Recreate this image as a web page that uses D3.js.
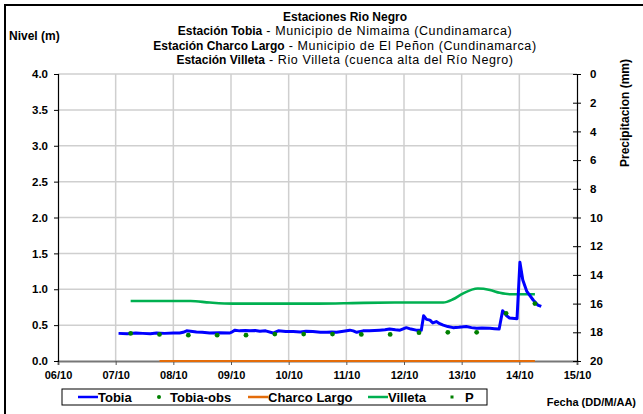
<!DOCTYPE html>
<html>
<head>
<meta charset="utf-8">
<script src="https://cdn.jsdelivr.net/npm/d3@7"></script>
<style>
  body { margin: 0; background: #fff; }
  svg { font-family: "Liberation Sans", Arial, sans-serif; }
</style>
</head>
<body>
<div id="chart"></div>
<script>
// day of October 2010 (fractional), level in m
const tobiaDays = [7.05, 7.20, 7.35, 7.47, 7.60, 7.71, 7.85, 8.00, 8.11, 8.17, 8.23, 8.30, 8.40, 8.50, 8.63, 8.80, 8.98,
  9.03, 9.07, 9.15, 9.25, 9.33, 9.42, 9.50, 9.60, 9.73, 9.82, 9.95, 10.08, 10.20, 10.30, 10.42, 10.55, 10.66, 10.75,
  10.83, 10.95, 11.06, 11.12, 11.18, 11.29, 11.40, 11.58, 11.67, 11.75, 11.85, 11.93, 12.04, 12.12, 12.21, 12.30,
  12.34, 12.39, 12.45, 12.50, 12.56, 12.62, 12.68, 12.76, 12.85, 12.95, 13.08, 13.17, 13.26, 13.35, 13.49, 13.57,
  13.65, 13.71, 13.78, 13.83, 13.96, 14.01, 14.06, 14.13, 14.24, 14.32, 14.38];
const tobiaLevel = [0.385, 0.38, 0.39, 0.385, 0.38, 0.39, 0.385, 0.39, 0.39, 0.40, 0.42, 0.415, 0.405, 0.40, 0.39, 0.395, 0.39,
  0.41, 0.43, 0.42, 0.425, 0.42, 0.425, 0.415, 0.42, 0.39, 0.42, 0.41, 0.41, 0.405, 0.415, 0.41, 0.40, 0.40, 0.405,
  0.40, 0.415, 0.43, 0.42, 0.40, 0.42, 0.42, 0.43, 0.435, 0.445, 0.435, 0.43, 0.465, 0.445, 0.43, 0.43,
  0.63, 0.58, 0.57, 0.53, 0.55, 0.52, 0.50, 0.48, 0.465, 0.47, 0.48, 0.465, 0.455, 0.46, 0.455, 0.45,
  0.446, 0.70, 0.63, 0.60, 0.59, 1.375, 1.13, 0.97, 0.85, 0.78, 0.76];

const obsDays = [7.26, 7.76, 8.26, 8.76, 9.26, 9.76, 10.26, 10.76, 11.26, 11.76, 12.26, 12.76, 13.26, 13.77, 14.27];
const obsLevel = [0.385, 0.37, 0.36, 0.36, 0.36, 0.375, 0.375, 0.375, 0.37, 0.37, 0.395, 0.40, 0.40, 0.665, 0.80];

const charcoDays = [7.76, 14.27];
const charcoLevel = [0, 0];

const villetaDays = [7.26, 8.0, 8.30, 8.63, 9.03, 9.7, 10.5, 11.0, 11.3, 12.0, 12.68, 12.85, 13.02, 13.28, 13.49, 13.66, 13.83, 14.27];
const villetaLevel = [0.836, 0.836, 0.836, 0.815, 0.80, 0.80, 0.80, 0.805, 0.81, 0.815, 0.815, 0.86, 0.94, 1.01, 0.99, 0.95, 0.93, 0.93];

const pDays = [];
const pValue = [];

const xTickDays = [6, 7, 8, 9, 10, 11, 12, 13, 14, 15];
const xTickLabels = ["06/10", "07/10", "08/10", "09/10", "10/10", "11/10", "12/10", "13/10", "14/10", "15/10"];
const yTicks = [0, 0.5, 1, 1.5, 2, 2.5, 3, 3.5, 4];
const pTicks = [0, 2, 4, 6, 8, 10, 12, 14, 16, 18, 20];

const titleLines = [
  ["Estaciones Rio Negro", ""],
  ["Estación Tobia", " - Municipio de Nimaima (Cundinamarca)"],
  ["Estación Charco Largo", " - Municipio de El Peñon (Cundinamarca)"],
  ["Estación Villeta", " -  Rio Villeta (cuenca alta del Río Negro)"]
];

const W = 643, H = 414;
const plotL = 58, plotR = 577, plotT = 74, plotB = 361;

const svg = d3.select('#chart').append('svg')
    .attr('width', W).attr('height', H);

svg.append('rect')
    .attr('x', 5).attr('y', 5).attr('width', 700).attr('height', 500)
    .attr('fill', 'none').attr('stroke', '#000').attr('stroke-width', 2);

const x = d3.scaleLinear().domain([6, 15]).range([plotL, plotR]);
const y = d3.scaleLinear().domain([0, 4]).range([plotB, plotT]);
const yP = d3.scaleLinear().domain([0, 20]).range([plotT, plotB]);

// grid
svg.append('g').selectAll('line').data(yTicks.filter(d => d > 0))
  .join('line')
    .attr('x1', plotL).attr('x2', plotR)
    .attr('y1', d => y(d)).attr('y2', d => y(d))
    .attr('stroke', '#cfcfcf').attr('stroke-width', 1.5);
svg.append('g').selectAll('line').data(xTickDays.filter(d => d > 6 && d < 15))
  .join('line')
    .attr('x1', d => x(d)).attr('x2', d => x(d))
    .attr('y1', plotT).attr('y2', plotB)
    .attr('stroke', '#cfcfcf').attr('stroke-width', 1.5);

// x axis
const xAxis = svg.append('g')
    .attr('transform', 'translate(0,' + plotB + ')')
    .call(d3.axisBottom(x).tickValues(xTickDays).tickSize(4).tickPadding(6)
      .tickFormat((d, i) => xTickLabels[i]));
xAxis.select('.domain').attr('stroke', '#777').attr('stroke-width', 2);
xAxis.selectAll('.tick line').attr('stroke', '#555');
xAxis.selectAll('text').attr('font-size', 11).attr('font-weight', 'bold')
    .attr('font-family', '"Liberation Sans", Arial, sans-serif').attr('fill', '#000');

// left axis
const yAxis = svg.append('g')
    .attr('transform', 'translate(' + plotL + ',0)')
    .call(d3.axisLeft(y).tickValues(yTicks).tickSize(4).tickPadding(6).tickFormat(d3.format('.1f')));
yAxis.select('.domain').attr('stroke', '#000').attr('stroke-width', 1.2);
yAxis.selectAll('text').attr('font-size', 11.5).attr('font-weight', 'bold')
    .attr('font-family', '"Liberation Sans", Arial, sans-serif');

// right axis (precipitation, reversed)
const pAxis = svg.append('g')
    .attr('transform', 'translate(' + plotR + ',0)')
    .call(d3.axisRight(yP).tickValues(pTicks).tickSize(4).tickPadding(9));
pAxis.select('.domain').attr('stroke', '#000').attr('stroke-width', 1.2);
pAxis.selectAll('.tick line').attr('x1', -4);
pAxis.selectAll('text').attr('font-size', 11.5).attr('font-weight', 'bold')
    .attr('font-family', '"Liberation Sans", Arial, sans-serif');

// series
const lineGen = d3.line().x(d => x(d[0])).y(d => y(d[1]));

svg.append('path')
    .datum(d3.zip(charcoDays, charcoLevel))
    .attr('d', lineGen)
    .attr('fill', 'none').attr('stroke', '#E46C0A').attr('stroke-width', 2.2);

svg.append('path')
    .datum(d3.zip(villetaDays, villetaLevel))
    .attr('d', d3.line().x(d => x(d[0])).y(d => y(d[1])).curve(d3.curveMonotoneX))
    .attr('fill', 'none').attr('stroke', '#00B050').attr('stroke-width', 2.6);

svg.append('path')
    .datum(d3.zip(tobiaDays, tobiaLevel))
    .attr('d', lineGen)
    .attr('fill', 'none').attr('stroke', '#0000FF').attr('stroke-width', 3)
    .attr('stroke-linejoin', 'round');

svg.append('g').selectAll('circle').data(d3.zip(obsDays, obsLevel))
  .join('circle')
    .attr('cx', d => x(d[0])).attr('cy', d => y(d[1])).attr('r', 2.4)
    .attr('fill', '#008000');

svg.append('g').selectAll('rect').data(d3.zip(pDays, pValue))
  .join('rect')
    .attr('x', d => x(d[0]) - 2).attr('y', d => yP(d[1]) - 2)
    .attr('width', 4).attr('height', 4).attr('fill', '#008000');

// titles
const title = svg.append('g').attr('text-anchor', 'middle').attr('font-size', 12)
    .style('white-space', 'pre');
titleLines.forEach((l, i) => {
  const t = title.append('text').attr('x', 345).attr('y', 21 + i * 14.3);
  t.append('tspan').attr('font-weight', 'bold').text(l[0]);
  if (l[1]) t.append('tspan').attr('font-size', 12.5).attr('letter-spacing', 0.6).text(l[1]);
});

svg.append('text').attr('x', 9).attr('y', 40)
    .attr('font-size', 12).attr('font-weight', 'bold').text('Nivel (m)');

svg.append('text')
    .attr('transform', 'translate(629,113) rotate(-90)')
    .attr('text-anchor', 'middle')
    .attr('font-size', 12).attr('font-weight', 'bold').text('Precipitacion (mm)');

svg.append('text').attr('x', 636).attr('y', 406).attr('text-anchor', 'end')
    .attr('font-size', 11).attr('font-weight', 'bold').text('Fecha (DD/M/AA)');

// legend
const legend = svg.append('g');
legend.append('rect').attr('x', 62).attr('y', 389).attr('width', 425).attr('height', 16)
    .attr('fill', '#fff').attr('stroke', '#000').attr('stroke-width', 1);
const legendItems = [
  {name: 'Tobia', type: 'line', color: '#0000FF', x: 78},
  {name: 'Tobia-obs', type: 'dot', color: '#008000', x: 159},
  {name: 'Charco Largo', type: 'line', color: '#E46C0A', x: 248},
  {name: 'Villeta', type: 'line', color: '#00B050', x: 368},
  {name: 'P', type: 'square', color: '#008000', x: 452}
];
legendItems.forEach(it => {
  const ly = 397;
  let tx;
  if (it.type === 'line') {
    legend.append('line').attr('x1', it.x).attr('x2', it.x + 20).attr('y1', ly).attr('y2', ly)
      .attr('stroke', it.color).attr('stroke-width', 2.5);
    tx = it.x + 20;
  } else if (it.type === 'dot') {
    legend.append('circle').attr('cx', it.x).attr('cy', ly).attr('r', 2).attr('fill', it.color);
    tx = it.x + 11;
  } else {
    legend.append('rect').attr('x', it.x - 1.5).attr('y', ly - 1.5).attr('width', 3).attr('height', 3).attr('fill', it.color);
    tx = it.x + 13;
  }
  legend.append('text').attr('x', tx).attr('y', ly + 4.5)
    .attr('font-size', 13).attr('font-weight', 'bold').text(it.name);
});
</script>
</body>
</html>
